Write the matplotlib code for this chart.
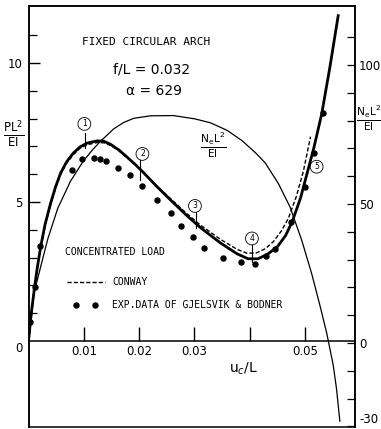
import matplotlib.pyplot as plt

# theory, PL^2/EI against u_c/L (thick solid)
u_th = [0, .0005, .0011, .0016, .0022, .0030, .0040, .0049, .0058, .0069, .0081,
        .0093, .0106, .0124, .0136, .0148, .0163, .0178, .0192, .0206, .0230,
        .0257, .0287, .0311, .0347, .0377, .0397, .0415, .0432, .0450, .0465,
        .0477, .0492, .0504, .0516, .0530, .0545, .0560]
p_th = [0, 1.00, 1.95, 2.65, 3.39, 4.20, 4.96, 5.55, 6.04, 6.45, 6.76,
        6.98, 7.12, 7.20, 7.19, 7.08, 6.88, 6.62, 6.37, 6.10, 5.60,
        5.07, 4.50, 4.08, 3.53, 3.14, 2.96, 2.96, 3.12, 3.39, 3.80,
        4.30, 5.15, 6.05, 6.95, 8.15, 9.85, 11.70]

# Conway (dashed)
u_cw = [0, .0005, .0011, .0016, .0022, .0030, .0040, .0049, .0058, .0069, .0081,
        .0093, .0106, .0124, .0136, .0148, .0163, .0178, .0192, .0206, .0230,
        .0257, .0287, .0311, .0347, .0377, .0395, .0412, .0428, .0443, .0458,
        .0470, .0484, .0497, .0510]
p_cw = [0, 0.98, 1.92, 2.62, 3.35, 4.15, 4.90, 5.50, 5.98, 6.40, 6.70,
        6.93, 7.06, 7.14, 7.13, 7.04, 6.85, 6.60, 6.36, 6.10, 5.62,
        5.12, 4.57, 4.17, 3.66, 3.30, 3.16, 3.17, 3.32, 3.58, 3.98,
        4.42, 5.18, 6.10, 7.35]

# exp. data of Gjelsvik & Bodner
u_exp = [.00023, .0011, .0020, .0078, .0096, .0118, .0130, .0140, .0161, .0183,
         .0205, .0232, .0258, .0276, .0297, .0318, .0351, .0384, .0410, .0430,
         .0446, .0474, .0500, .0517, .0533]
p_exp = [0.69, 1.94, 3.42, 6.15, 6.55, 6.58, 6.55, 6.47, 6.22, 5.97,
         5.58, 5.07, 4.60, 4.14, 3.76, 3.33, 3.00, 2.84, 2.77, 3.06,
         3.30, 4.28, 5.55, 6.77, 8.21]

# NeL^2/EI (thin, right scale)
u_ne = [0, .0010, .0024, .0035, .0053, .0076, .0099, .0115, .0130, .0154, .0172,
        .0190, .0220, .0262, .0301, .0329, .0359, .0386, .0410, .0428, .0452,
        .0473, .0494, .0512, .0527, .0539, .0551, .0557, .0563]
n_ne = [0, 18, 29, 37.5, 48.5, 58.2, 65.4, 69.3, 72.5, 77.0, 79.3,
        80.8, 81.7, 81.8, 80.6, 79.2, 76.5, 72.8, 68.5, 64.8, 57.3,
        48.9, 37.0, 25.0, 13.5, 3.8, -7.9, -16.5, -28.1]

# numbered stages: label position and short marker line
stage_u = [.0101, .0206, .0301, .0404, .0521]
stage_p = [7.81, 6.73, 4.86, 3.69, 6.27]
mark_u = [.0102, .0202, .0303, .0404]
mark_top = [7.48, 6.51, 4.64, 3.45]
mark_bot = [6.94, 5.79, 4.06, 2.84]

fig = plt.figure(figsize=(3.81, 4.29), dpi=100)
ax = fig.add_axes([28.5/381, 2/429, 326.5/381, 421/429])
ax.set_xlim(0, 0.05904)
ax.set_ylim(-3.09, 12.05)

ax.plot(u_th, p_th, 'k-', lw=2.0)
ax.plot(u_cw, p_cw, 'k--', lw=1.0, dashes=(3, 1.5))
ax.plot(u_exp, p_exp, 'ko', ms=3.6)

ax2 = ax.twinx()
ax2.set_ylim(-30.2, 121.2)
ax2.plot(u_ne, n_ne, 'k-', lw=0.9)

for s in ['top', 'left', 'right', 'bottom']:
    ax.spines[s].set_linewidth(1.1)
    ax2.spines[s].set_linewidth(1.1)
ax.spines['bottom'].set_position(('data', 0))

ax.set_xticks([0.01, 0.02, 0.03, 0.04, 0.05], ['0.01', '0.02', '0.03', '', '0.05'])
ax.tick_params(axis='x', direction='in', length=10, width=1.0, pad=3, labelsize=8.5)
ax.set_yticks([5, 10])
ax.set_yticks(range(1, 12), minor=True)
ax.tick_params(axis='y', which='major', direction='in', length=8, width=1.0,
               pad=4, labelsize=8.5)
ax.tick_params(axis='y', which='minor', direction='in', length=5.5, width=0.9)
ax.text(-0.0018, -0.25, '0', ha='center', va='center', fontsize=8.5, clip_on=False)

rticks = list(range(-30, 111, 10))
rlabels = [str(t) if t in (100, 50, 0, -30) else '' for t in rticks]
ax2.set_yticks(rticks, rlabels)
ax2.tick_params(axis='y', direction='in', length=6, width=0.9, pad=3, labelsize=8.5)
ax2.get_yticklabels()[0].set_verticalalignment('bottom')

for i in range(len(stage_u)):
    ax.text(stage_u[i], stage_p[i], str(i + 1), fontsize=5.5, ha='center', va='center',
            bbox=dict(boxstyle='circle,pad=0.25', fc='none', ec='k', lw=0.6))
for i in range(len(mark_u)):
    ax.plot([mark_u[i], mark_u[i]], [mark_top[i], mark_bot[i]], 'k-', lw=0.8)

ax.text(0.00967, 10.76, 'FIXED CIRCULAR ARCH', family='DejaVu Sans Mono',
        fontsize=8, ha='left', va='center')
ax.text(0.0223, 9.75, 'f/L = 0.032', fontsize=10, ha='center', va='center')
ax.text(0.0227, 8.99, 'α = 629', fontsize=10, ha='center', va='center')
ax.text(0.03336, 7.05, r'$\frac{\mathrm{N_eL}^2}{\mathrm{EI}}$', fontsize=11,
        ha='center', va='center')

ax.text(0.0066, 3.2, 'CONCENTRATED LOAD', family='DejaVu Sans Mono', fontsize=7,
        ha='left', va='center')
ax.plot([0.00696, 0.01383], [2.12, 2.12], 'k--', lw=1.0, dashes=(3, 1.5))
ax.text(0.0151, 2.12, 'CONWAY', family='DejaVu Sans Mono', fontsize=7,
        ha='left', va='center')
ax.plot([0.00859, 0.01203], [1.295, 1.295], 'ko', ms=3.6, ls='none')
ax.text(0.0151, 1.295, 'EXP.DATA OF GJELSVIK & BODNER', family='DejaVu Sans Mono',
        fontsize=7, ha='left', va='center')

ax.text(0.0388, -1.0, r'u$_c$/L', fontsize=10, ha='center', va='center')

fig.text(14/381, 1 - 134/429, r'$\frac{\mathrm{PL}^2}{\mathrm{EI}}$', fontsize=12,
         ha='center', va='center')
fig.text(369/381, 1 - 118/429, r'$\frac{\mathrm{N_eL}^2}{\mathrm{EI}}$', fontsize=11,
         ha='center', va='center')

fig.savefig('out.png', dpi=100)
